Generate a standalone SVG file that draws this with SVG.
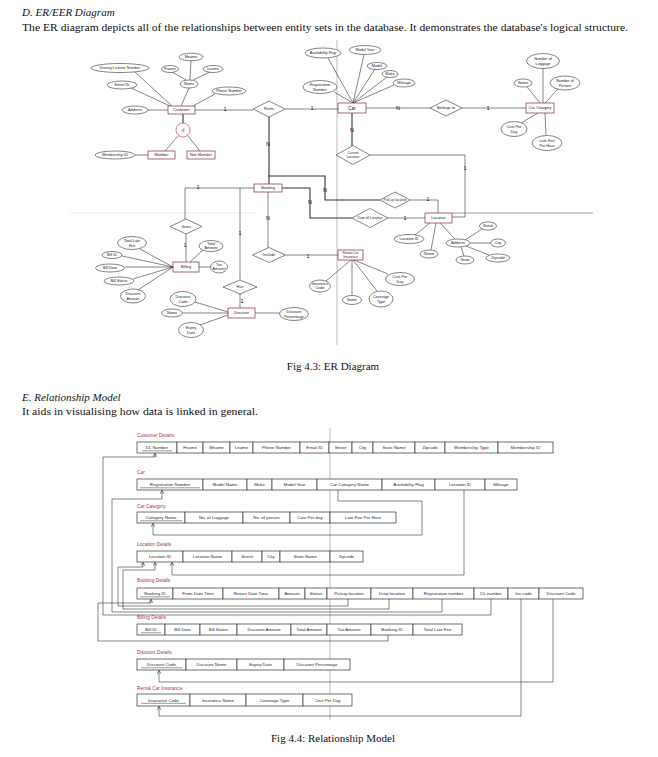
<svg xmlns="http://www.w3.org/2000/svg" width="658" height="757" viewBox="0 0 658 757">
<style>
.bg{fill:#fff}
.doc{font-family:"Liberation Serif",serif;font-size:11px;fill:#111}
.it{font-style:italic}
.e{fill:#fff;stroke:#333;stroke-width:0.6}
.r{fill:#fff;stroke:#7a2e3a;stroke-width:0.7}
.d{fill:#fff;stroke:#333;stroke-width:0.6}
.l{stroke:#333;stroke-width:0.6;fill:none}
.lt{stroke:#333;stroke-width:1.1;fill:none}
.t{font-family:"Liberation Sans",sans-serif;font-size:3.8px;fill:#222;text-anchor:middle;dominant-baseline:central}
.n{font-family:"Liberation Sans",sans-serif;font-size:5.5px;fill:#111;text-anchor:middle;dominant-baseline:central}
.c{fill:#fff;stroke:#333;stroke-width:0.7}
.ct{font-family:"Liberation Sans",sans-serif;font-size:4.4px;fill:#2a2a2a;text-anchor:middle;dominant-baseline:central}
.h{font-family:"Liberation Sans",sans-serif;font-size:4.8px;fill:#b0304a}
.u{stroke:#333;stroke-width:0.5}
.k{stroke:#333;stroke-width:0.6;fill:none;marker-end:url(#ar)}
.fold{stroke:#aaa;stroke-width:0.8;fill:none}
</style>
<defs>
<marker id="ar" viewBox="0 0 6 6" refX="5.5" refY="3" markerWidth="6" markerHeight="6" orient="auto">
<path d="M0,0 L6,3 L0,6" fill="none" stroke="#223" stroke-width="1"/>
</marker>
</defs>
<rect class="bg" width="658" height="757"/>
<text class="doc it" x="22" y="16">D.  ER/EER Diagram</text>
<text class="doc" x="22" y="31" textLength="606" lengthAdjust="spacingAndGlyphs">The ER diagram depicts all of the relationships between entity sets in the database. It demonstrates the database's logical structure.</text>
<text class="doc" x="333" y="370" text-anchor="middle">Fig 4.3: ER Diagram</text>
<text class="doc it" x="22" y="401">E.  Relationship Model</text>
<text class="doc" x="22" y="415" textLength="236" lengthAdjust="spacingAndGlyphs">It aids in visualising how data is linked in general.</text>
<text class="doc" x="333" y="742" text-anchor="middle">Fig 4.4: Relationship Model</text>
<g id="folds">
<path class="fold" d="M337,40 V345 M330,428 V720"/>
<path class="fold" d="M452,213 H593" style="stroke:#888"/>
<path class="fold" d="M70,213 H255" style="stroke:#e4e4e4"/>
</g>
<g id="er-connectors">
<path class="l" d="M181,106 L189,88 M186,80 L172,72 M190,80 L191,61 M193,80 L210,72 M172,106 L135,72 M170,106 L131,88 M168,110 H148 M193,106 L215,94 M178,136 L165,151 M188,136 L200,151 M148,155 H135 M195,110 H253"/>
<path class="lt" d="M183,114 V123"/>
<path class="l" d="M285,109 H338 M353,103 L328,58 M353,103 L364,55 M353,103 L375,69 M353,103 L387,77 M353,103 L394,85 M353,103 L334,92 M366,108 H430 M462,108 H526 M543,103 V68 M540,103 L527,87 M545,103 L558,89 M538,113 L521,123 M545,113 L546,135"/>
<path class="lt" d="M352,113 V146"/>
<path class="l" d="M370,155 H465 V217 H452"/>
<path class="lt" d="M269,117 V184 M268,176 H325 V200 H380 M282,188 H310 V218 H352"/>
<path class="l" d="M410,200 H438 V213 M388,218 H425 M430,223 L415,235 M436,223 L431,250 M440,223 L455,239 M465,240 L482,229 M470,243 H491 M466,246 L489,255 M461,247 L464,256"/>
<path class="l" d="M254,188 H185 V219 M240,188 V280 M186,234 V262 M173,267 L140,249 M173,267 L122,256 M173,267 H125 M173,267 L133,279 M173,267 L138,290 M190,262 L203,250 M199,267 H211 M240,294 V308 M228,312 L195,302 M228,313 H183 M228,315 L200,325 M255,313 H280"/>
<path class="l" d="M268,192 V248 M286,255 H338 M351,260 L326,281 M352,260 V295 M353,260 L377,291 M354,260 L388,274"/>
<text class="n" x="225" y="109">1</text>
<text class="n" x="312" y="108">1</text>
<text class="n" x="398" y="108">N</text>
<text class="n" x="488" y="108">1</text>
<text class="n" x="352" y="130">N</text>
<text class="n" x="465" y="168">1</text>
<text class="n" x="268" y="144">N</text>
<text class="n" x="325" y="190">N</text>
<text class="n" x="310" y="202">N</text>
<text class="n" x="428" y="199">1</text>
<text class="n" x="405" y="218">1</text>
<text class="n" x="198" y="187">1</text>
<text class="n" x="240" y="233">1</text>
<text class="n" x="185" y="245">1</text>
<text class="n" x="242" y="301">1</text>
<text class="n" x="268" y="218">N</text>
<text class="n" x="308" y="256">1</text>
</g>
<g id="customer"><rect class="r" x="168" y="106" width="27" height="8"/><text class="t" x="181.5" y="110">Customer</text></g>
<g id="a-dln"><ellipse class="e" cx="120" cy="68" rx="29" ry="4.5"/><text class="t" x="120" y="68">Driving License Number</text></g>
<g id="a-fname"><ellipse class="e" cx="170" cy="69" rx="8.5" ry="3.5"/><text class="t" x="170" y="69">Fname</text></g>
<g id="a-mname"><ellipse class="e" cx="191" cy="57" rx="12" ry="3.8"/><text class="t" x="191" y="57">Mname</text></g>
<g id="a-lname"><ellipse class="e" cx="213" cy="69" rx="10" ry="3.5"/><text class="t" x="213" y="69">Lname</text></g>
<g id="a-name"><ellipse class="e" cx="189" cy="84" rx="9" ry="4"/><text class="t" x="189" y="84">Name</text></g>
<g id="a-phone"><ellipse class="e" cx="229" cy="91" rx="17" ry="4"/><text class="t" x="229" y="91">Phone Number</text></g>
<g id="a-email"><ellipse class="e" cx="122" cy="85" rx="15" ry="4"/><text class="t" x="122" y="85">Email ID</text></g>
<g id="a-address"><ellipse class="e" cx="135" cy="110" rx="13" ry="4"/><text class="t" x="135" y="110">Address</text></g>
<g id="disjoint"><circle cx="183" cy="130" r="7" fill="#fff" stroke="#c0406a" stroke-width="0.7"/><text x="183" y="130" style="font-family:'Liberation Sans',sans-serif;font-size:6px;fill:#c0406a;text-anchor:middle;dominant-baseline:central">d</text></g>
<g id="member"><rect class="r" x="148" y="151" width="27" height="8"/><text class="t" x="161.5" y="155">Member</text></g>
<g id="nonmember"><rect class="r" x="187" y="151" width="28" height="8"/><text class="t" x="201" y="155">Non Member</text></g>
<g id="a-memid"><ellipse class="e" cx="115" cy="155" rx="20" ry="4"/><text class="t" x="115" y="155">Membership ID</text></g>
<g id="rents"><polygon class="d" points="253,109 269,101 285,109 269,117"/><text class="t" x="269" y="109">Rents</text></g>
<g id="car"><rect class="r" x="338" y="103" width="28" height="10"/><text class="t" x="352" y="108" style="font-size:4.8px">Car</text></g>
<g id="a-avail"><ellipse class="e" cx="323" cy="53" rx="18" ry="5"/><text class="t" x="323" y="53">Availability Flag</text></g>
<g id="a-myear"><ellipse class="e" cx="365" cy="50" rx="16" ry="4.5"/><text class="t" x="365" y="50">Model Year</text></g>
<g id="a-model"><ellipse class="e" cx="377" cy="66" rx="10" ry="3.5"/><text class="t" x="377" y="66">Model</text></g>
<g id="a-make"><ellipse class="e" cx="390" cy="74" rx="8" ry="3.5"/><text class="t" x="390" y="74">Make</text></g>
<g id="a-mileage"><ellipse class="e" cx="404" cy="83" rx="11" ry="4"/><text class="t" x="404" y="83">Mileage</text></g>
<g id="a-regno"><ellipse class="e" cx="320" cy="87" rx="17" ry="6.5"/><text class="t" x="320" y="85">Registration</text><text class="t" x="320" y="89.5">Number</text></g>
<g id="belongs"><polygon class="d" points="430,108 446,100 462,108 446,116"/><text class="t" x="446" y="108">Belongs to</text></g>
<g id="carcat"><rect class="r" x="526" y="103" width="28" height="10"/><text class="t" x="540" y="108">Car Category</text></g>
<g id="a-nol"><ellipse class="e" cx="543" cy="61" rx="16.5" ry="7.5"/><text class="t" x="543" y="58.5">Number of</text><text class="t" x="543" y="63.5">Luggage</text></g>
<g id="a-ccname"><ellipse class="e" cx="523" cy="83" rx="9" ry="4"/><text class="t" x="523" y="83">Name</text></g>
<g id="a-nop"><ellipse class="e" cx="565" cy="83" rx="15" ry="7"/><text class="t" x="565" y="80.5">Number of</text><text class="t" x="565" y="85.5">Person</text></g>
<g id="a-cpd"><ellipse class="e" cx="514" cy="129" rx="13" ry="7.5"/><text class="t" x="514" y="126.5">Cost Per</text><text class="t" x="514" y="131.5">Day</text></g>
<g id="a-lfph"><ellipse class="e" cx="547" cy="143" rx="15" ry="7.5"/><text class="t" x="547" y="140.5">Late Fee</text><text class="t" x="547" y="145.5">Per Hour</text></g>
<g id="curloc"><polygon class="d" points="336,155 353,145.5 370,155 353,164.5"/><text class="t" x="353" y="153" style="font-size:3.3px">Current</text><text class="t" x="353" y="157" style="font-size:3.3px">Location</text></g>
<g id="booking"><rect class="r" x="254" y="184" width="28" height="8"/><text class="t" x="268" y="188">Booking</text></g>
<g id="pickup"><polygon class="d" points="380,200 395,192 410,200 395,208"/><text class="t" x="395" y="200" style="font-size:3.3px">Pick up location</text></g>
<g id="dropoff"><polygon class="d" points="352,218 370,208.5 388,218 370,227.5"/><text class="t" x="370" y="218" style="font-size:3.3px">Drop off Location</text></g>
<g id="location"><rect class="r" x="425" y="213" width="27" height="10"/><text class="t" x="438.5" y="218">Location</text></g>
<g id="a-locid"><ellipse class="e" cx="409" cy="239" rx="15" ry="4.5"/><text class="t" x="409" y="239">Location ID</text></g>
<g id="a-locname"><ellipse class="e" cx="429" cy="254" rx="9" ry="4"/><text class="t" x="429" y="254">Name</text></g>
<g id="a-locaddr"><ellipse class="e" cx="458" cy="243" rx="12" ry="4"/><text class="t" x="458" y="243">Address</text></g>
<g id="a-street"><ellipse class="e" cx="488" cy="226" rx="8.5" ry="4"/><text class="t" x="488" y="226">Street</text></g>
<g id="a-city"><ellipse class="e" cx="498" cy="243" rx="7.5" ry="4"/><text class="t" x="498" y="243">City</text></g>
<g id="a-zip"><ellipse class="e" cx="498" cy="258" rx="12" ry="4"/><text class="t" x="498" y="258">Zipcode</text></g>
<g id="a-state"><ellipse class="e" cx="465" cy="260" rx="9" ry="4"/><text class="t" x="465" y="260">State</text></g>
<g id="gives"><polygon class="d" points="170,226.5 186,219 202,226.5 186,234"/><text class="t" x="186" y="226.5">Gives</text></g>
<g id="billing"><rect class="r" x="173" y="262" width="26" height="10"/><text class="t" x="186" y="267">Billing</text></g>
<g id="a-tlf"><ellipse class="e" cx="132" cy="243" rx="14.5" ry="6.5"/><text class="t" x="132" y="240.8">Total Late</text><text class="t" x="132" y="245.5">Fee</text></g>
<g id="a-billid"><ellipse class="e" cx="112" cy="255" rx="10" ry="3.5"/><text class="t" x="112" y="255">Bill ID</text></g>
<g id="a-billdate"><ellipse class="e" cx="110" cy="268" rx="14.5" ry="4"/><text class="t" x="110" y="268">Bill Date</text></g>
<g id="a-billstatus"><ellipse class="e" cx="119" cy="281" rx="15" ry="4"/><text class="t" x="119" y="281">Bill Status</text></g>
<g id="a-discamt"><ellipse class="e" cx="133" cy="296" rx="12.5" ry="7"/><text class="t" x="133" y="293.8">Discount</text><text class="t" x="133" y="298.5">Amount</text></g>
<g id="a-totamt"><ellipse class="e" cx="211" cy="246" rx="12" ry="5.5"/><text class="t" x="211" y="244">Total</text><text class="t" x="211" y="248.3">Amount</text></g>
<g id="a-taxamt"><ellipse class="e" cx="219" cy="267" rx="8.5" ry="6"/><text class="t" x="219" y="265">Tax</text><text class="t" x="219" y="269.3">Amount</text></g>
<g id="has"><polygon class="d" points="223,287 240,280 257,287 240,294"/><text class="t" x="240" y="287">Has</text></g>
<g id="discount"><rect class="r" x="228" y="308" width="27" height="10"/><text class="t" x="241.5" y="313">Discount</text></g>
<g id="a-disccode"><ellipse class="e" cx="183" cy="299" rx="13" ry="7.5"/><text class="t" x="183" y="296.8">Discount</text><text class="t" x="183" y="301.5">Code</text></g>
<g id="a-discname"><ellipse class="e" cx="172" cy="313" rx="10.5" ry="4"/><text class="t" x="172" y="313">Name</text></g>
<g id="a-expiry"><ellipse class="e" cx="191" cy="330" rx="12.5" ry="7.5"/><text class="t" x="191" y="327.8">Expiry</text><text class="t" x="191" y="332.5">Date</text></g>
<g id="a-discpct"><ellipse class="e" cx="294" cy="314" rx="14.5" ry="6.5"/><text class="t" x="294" y="311.8">Discount</text><text class="t" x="294" y="316.5">Percentage</text></g>
<g id="include"><polygon class="d" points="252.5,255 269,247.5 285.5,255 269,262.5"/><text class="t" x="269" y="255">Include</text></g>
<g id="rci"><rect class="r" x="338" y="250" width="25" height="10"/><text class="t" x="350.5" y="253" style="font-size:3.3px">Rental Car</text><text class="t" x="350.5" y="257.2" style="font-size:3.3px">Insurance</text></g>
<g id="a-inscode"><ellipse class="e" cx="320" cy="286" rx="10.5" ry="6"/><text class="t" x="320" y="284">Insurance</text><text class="t" x="320" y="288.3">Code</text></g>
<g id="a-insname"><ellipse class="e" cx="352" cy="300" rx="9.5" ry="4.5"/><text class="t" x="352" y="300">Name</text></g>
<g id="a-covtype"><ellipse class="e" cx="381" cy="299" rx="12" ry="8"/><text class="t" x="381" y="296.8">Coverage</text><text class="t" x="381" y="301.5">Type</text></g>
<g id="a-inscpd"><ellipse class="e" cx="400" cy="279" rx="14.5" ry="6.5"/><text class="t" x="400" y="276.8">Cost Per</text><text class="t" x="400" y="281.5">Day</text></g>

<g id="rm-connectors">
<path class="k" d="M491,599 V615 H103 V457 H155 V453.5"/>
<path class="k" d="M442,599 V612 H112 V499 H162 V490.5"/>
<path class="k" d="M348,599 V606 H118 V567 H143 V562.5"/>
<path class="k" d="M389,599 V609 H123 V570 H155 V562.5"/>
<path class="k" d="M464,490 V575 H172 V562.5"/>
<path class="k" d="M338,490 V501 H422 V535 H153 V523.5"/>
<path class="k" d="M388,635 V641 H98 V603 H151 V599.5"/>
<path class="k" d="M553,599 V682 H159 V670.5"/>
<path class="k" d="M521,599 V716 H159 V706.5"/>
</g>
<g id="t-customer">
<text class="h" x="137" y="437">Customer Details</text>
<rect class="c" x="137" y="442" width="40" height="11"/><rect class="c" x="177" y="442" width="26" height="11"/><rect class="c" x="203" y="442" width="27" height="11"/><rect class="c" x="230" y="442" width="23" height="11"/><rect class="c" x="253" y="442" width="47" height="11"/><rect class="c" x="300" y="442" width="29" height="11"/><rect class="c" x="329" y="442" width="23" height="11"/><rect class="c" x="352" y="442" width="21" height="11"/><rect class="c" x="373" y="442" width="42" height="11"/><rect class="c" x="415" y="442" width="30" height="11"/><rect class="c" x="445" y="442" width="53" height="11"/><rect class="c" x="498" y="442" width="55" height="11"/>
<text class="ct" x="157" y="447.5">DL Number</text><line class="u" x1="142" y1="450.8" x2="172" y2="450.8"/>
<text class="ct" x="190" y="447.5">Fname</text><text class="ct" x="216.5" y="447.5">Mname</text><text class="ct" x="241.5" y="447.5">Lname</text><text class="ct" x="276.5" y="447.5">Phone Number</text><text class="ct" x="314.5" y="447.5">Email ID</text><text class="ct" x="340.5" y="447.5">Street</text><text class="ct" x="362.5" y="447.5">City</text><text class="ct" x="394" y="447.5">State Name</text><text class="ct" x="430" y="447.5">Zipcode</text><text class="ct" x="471.5" y="447.5">Membership Type</text><text class="ct" x="525.5" y="447.5">Membership ID</text>
</g>
<g id="t-car">
<text class="h" x="137" y="474">Car</text>
<rect class="c" x="137" y="479" width="66" height="11"/><rect class="c" x="203" y="479" width="44" height="11"/><rect class="c" x="247" y="479" width="25" height="11"/><rect class="c" x="272" y="479" width="45" height="11"/><rect class="c" x="317" y="479" width="65" height="11"/><rect class="c" x="382" y="479" width="53" height="11"/><rect class="c" x="435" y="479" width="50" height="11"/><rect class="c" x="485" y="479" width="32" height="11"/>
<text class="ct" x="170" y="484.5">Registration Number</text><line class="u" x1="140" y1="487.8" x2="200" y2="487.8"/>
<text class="ct" x="225" y="484.5">Model Name</text><text class="ct" x="259.5" y="484.5">Make</text><text class="ct" x="294.5" y="484.5">Model Year</text><text class="ct" x="349.5" y="484.5">Car Category Name</text><text class="ct" x="408.5" y="484.5">Availability Flag</text><text class="ct" x="460" y="484.5">Location ID</text><text class="ct" x="501" y="484.5">Mileage</text>
</g>
<g id="t-carcat">
<text class="h" x="137" y="508">Car Category</text>
<rect class="c" x="137" y="512" width="48" height="11"/><rect class="c" x="185" y="512" width="58" height="11"/><rect class="c" x="243" y="512" width="47" height="11"/><rect class="c" x="290" y="512" width="40" height="11"/><rect class="c" x="330" y="512" width="66" height="11"/>
<text class="ct" x="161" y="517.5">Category Name</text><line class="u" x1="140" y1="520.8" x2="182" y2="520.8"/>
<text class="ct" x="214" y="517.5">No. of Luggage</text><text class="ct" x="266.5" y="517.5">No. of person</text><text class="ct" x="310" y="517.5">Cost Per day</text><text class="ct" x="363" y="517.5">Late Fee Per Hour</text>
</g>
<g id="t-location">
<text class="h" x="137" y="546">Location Details</text>
<rect class="c" x="137" y="551" width="46" height="11"/><rect class="c" x="183" y="551" width="49" height="11"/><rect class="c" x="232" y="551" width="30" height="11"/><rect class="c" x="262" y="551" width="18" height="11"/><rect class="c" x="280" y="551" width="50" height="11"/><rect class="c" x="330" y="551" width="33" height="11"/>
<text class="ct" x="160" y="556.5">Location ID</text><text class="ct" x="207.5" y="556.5">Location Name</text><text class="ct" x="247" y="556.5">Street</text><text class="ct" x="271" y="556.5">City</text><text class="ct" x="305" y="556.5">State Name</text><text class="ct" x="346.5" y="556.5">Zipcode</text>
</g>
<g id="t-booking">
<text class="h" x="137" y="582">Booking Details</text>
<rect class="c" x="137" y="588" width="36" height="11"/><rect class="c" x="173" y="588" width="50" height="11"/><rect class="c" x="223" y="588" width="56" height="11"/><rect class="c" x="279" y="588" width="26" height="11"/><rect class="c" x="305" y="588" width="22" height="11"/><rect class="c" x="327" y="588" width="44" height="11"/><rect class="c" x="371" y="588" width="42" height="11"/><rect class="c" x="413" y="588" width="61" height="11"/><rect class="c" x="474" y="588" width="34" height="11"/><rect class="c" x="508" y="588" width="31" height="11"/><rect class="c" x="539" y="588" width="44" height="11"/>
<text class="ct" x="155" y="593.5">Booking ID</text><line class="u" x1="140" y1="596.8" x2="170" y2="596.8"/>
<text class="ct" x="198" y="593.5">From Date Time</text><text class="ct" x="251" y="593.5">Return Date Time</text><text class="ct" x="292" y="593.5">Amount</text><text class="ct" x="316" y="593.5">Status</text><text class="ct" x="349" y="593.5">Pickup location</text><text class="ct" x="392" y="593.5">Drop location</text><text class="ct" x="443.5" y="593.5">Registration number</text><text class="ct" x="491" y="593.5">DL number</text><text class="ct" x="523.5" y="593.5">Ins code</text><text class="ct" x="561" y="593.5">Discount Code</text>
</g>
<g id="t-billing">
<text class="h" x="137" y="619">Billing Details</text>
<rect class="c" x="137" y="624" width="28" height="11"/><rect class="c" x="165" y="624" width="35" height="11"/><rect class="c" x="200" y="624" width="37" height="11"/><rect class="c" x="237" y="624" width="54" height="11"/><rect class="c" x="291" y="624" width="36" height="11"/><rect class="c" x="327" y="624" width="44" height="11"/><rect class="c" x="371" y="624" width="42" height="11"/><rect class="c" x="413" y="624" width="49" height="11"/>
<text class="ct" x="151" y="629.5">Bill ID</text><line class="u" x1="141" y1="632.8" x2="161" y2="632.8"/>
<text class="ct" x="182.5" y="629.5">Bill Date</text><text class="ct" x="218.5" y="629.5">Bill Status</text><text class="ct" x="264" y="629.5">Discount Amount</text><text class="ct" x="309" y="629.5">Total Amount</text><text class="ct" x="349" y="629.5">Tax Amount</text><text class="ct" x="392" y="629.5">Booking ID</text><text class="ct" x="437.5" y="629.5">Total Late Fee</text>
</g>
<g id="t-discount">
<text class="h" x="137" y="654">Discount Details</text>
<rect class="c" x="137" y="659" width="49" height="11"/><rect class="c" x="186" y="659" width="51" height="11"/><rect class="c" x="237" y="659" width="47" height="11"/><rect class="c" x="284" y="659" width="66" height="11"/>
<text class="ct" x="161.5" y="664.5">Discount Code</text><line class="u" x1="141" y1="667.8" x2="182" y2="667.8"/>
<text class="ct" x="211.5" y="664.5">Discount Name</text><text class="ct" x="260.5" y="664.5">Expiry Date</text><text class="ct" x="317" y="664.5">Discount Percentage</text>
</g>
<g id="t-insurance">
<text class="h" x="137" y="690">Rental Car Insurance</text>
<rect class="c" x="137" y="694" width="53" height="12"/><rect class="c" x="190" y="694" width="56" height="12"/><rect class="c" x="246" y="694" width="57" height="12"/><rect class="c" x="303" y="694" width="49" height="12"/>
<text class="ct" x="163.5" y="700">Insurance Code</text><line class="u" x1="141" y1="703.3" x2="186" y2="703.3"/>
<text class="ct" x="218" y="700">Insurance Name</text><text class="ct" x="274.5" y="700">Coverage Type</text><text class="ct" x="327.5" y="700">Cost Per Day</text>
</g>
</svg>
